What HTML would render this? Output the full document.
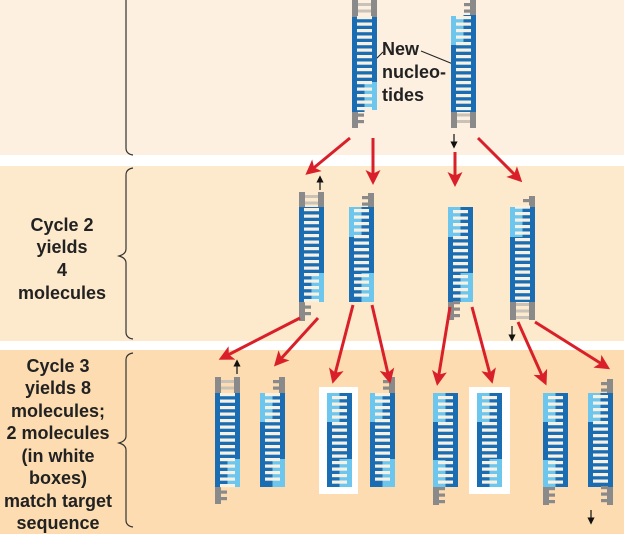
<!DOCTYPE html>
<html><head><meta charset="utf-8"><style>
html,body{margin:0;padding:0;background:#fff}
svg{display:block}
text{font-family:"Liberation Sans",Arial,sans-serif;font-weight:bold;fill:#222;font-size:18px}
</style></head><body>
<svg id="s" width="624" height="534" viewBox="0 0 624 534" xmlns="http://www.w3.org/2000/svg">
<defs>
<marker id="ar" markerWidth="5" markerHeight="5" refX="3" refY="2.5" orient="auto" markerUnits="strokeWidth">
<path d="M0,0 L5,2.5 L0,5 L1.2,2.5 z" fill="#d9202a"/></marker>
<marker id="ab" markerWidth="6" markerHeight="6" refX="3" refY="3" orient="auto" markerUnits="strokeWidth">
<path d="M0,0 L6,3 L0,6 z" fill="#111"/></marker>
</defs>
<rect x="0" y="0" width="624" height="155" fill="#fdf0e1"/>
<rect x="0" y="166" width="624" height="175" fill="#fde9cb"/>
<rect x="0" y="350" width="624" height="184" fill="#fcdcb0"/>
<g fill="none" stroke="#333" stroke-width="1.2">
<path d="M126,0 L126,148 Q126,154 133,155"/>
<path d="M133,168 Q126,169 126,175 L126,249 Q126,254 119,256 Q126,258 126,263 L126,332 Q126,338 133,339"/>
<path d="M133,353 Q126,354 126,360 L126,436 Q126,441 119,443 Q126,445 126,450 L126,520 Q126,526 133,527"/>
</g>
<g text-anchor="middle">
<text x="62" y="231">Cycle 2</text>
<text x="62" y="253">yields</text>
<text x="62" y="276">4</text>
<text x="62" y="299">molecules</text>
<text x="58" y="372">Cycle 3</text>
<text x="58" y="394">yields 8</text>
<text x="58" y="417">molecules;</text>
<text x="58" y="439">2 molecules</text>
<text x="58" y="462">(in white</text>
<text x="58" y="484">boxes)</text>
<text x="58" y="507">match target</text>
<text x="58" y="529">sequence</text>
</g>
<text x="382" y="55">New</text>
<text x="382" y="78">nucleo-</text>
<text x="382" y="101">tides</text>
<g stroke="#222" stroke-width="1">
<line x1="375" y1="60" x2="383" y2="52"/>
<line x1="421" y1="51" x2="453" y2="64"/>
</g>
<rect x="319" y="387" width="39" height="107" fill="#fff"/>
<rect x="469" y="387" width="41" height="107" fill="#fff"/>
<g id="mols"></g>
<g stroke="#d9202a" stroke-width="3" fill="none" marker-end="url(#ar)">
<line x1="350" y1="138" x2="310" y2="171"/>
<line x1="373" y1="138" x2="373" y2="179"/>
<line x1="455" y1="152" x2="455" y2="181"/>
<line x1="478" y1="138" x2="518" y2="178"/>
<line x1="300" y1="318" x2="224" y2="357"/>
<line x1="318" y1="318" x2="278" y2="362"/>
<line x1="353" y1="305" x2="334" y2="378"/>
<line x1="372" y1="305" x2="389" y2="378"/>
<line x1="450" y1="307" x2="438" y2="380"/>
<line x1="472" y1="307" x2="491" y2="378"/>
<line x1="518" y1="322" x2="544" y2="380"/>
<line x1="535" y1="322" x2="605" y2="366"/>
</g>
<g stroke="#111" stroke-width="1.2" marker-end="url(#ab)">
<line x1="320" y1="190" x2="320" y2="179"/>
<line x1="454" y1="134" x2="454" y2="145"/>
<line x1="512" y1="326" x2="512" y2="338"/>
<line x1="237" y1="374" x2="237" y2="363"/>
<line x1="591" y1="510" x2="591" y2="521"/>
</g>
</svg>
<script>
var D='#1a6db3',L='#6cc6ee',G='#8a8a8a',W='#f7f1e3';
var mols=[
[352,[[0,17,G],[17,112,D],[112,128,G]],[[0,17,G],[17,82,D],[82,110,L]]],
[451,[[16,45,L],[45,112,D],[112,128,G]],[[0,15,G],[15,112,D],[112,128,G]]],
[299,[[192,207,G],[207,302,D],[302,321,G]],[[192,207,G],[207,273,D],[273,302,L]]],
[349,[[207,237,L],[237,302,D]],[[193,207,G],[207,273,D],[273,302,L]]],
[448,[[207,237,L],[237,302,D],[302,320,G]],[[207,273,D],[273,302,L]]],
[510,[[207,237,L],[237,302,D],[302,320,G]],[[196,207,G],[207,302,D],[302,320,G]]],
[215,[[377,393,G],[393,487,D],[487,504,G]],[[377,393,G],[393,459,D],[459,487,L]]],
[260,[[393,422,L],[422,487,D]],[[377,393,G],[393,459,D],[459,487,L]]],
[327,[[393,422,L],[422,487,D]],[[393,459,D],[459,487,L]]],
[370,[[393,422,L],[422,487,D]],[[377,393,G],[393,459,D],[459,487,L]]],
[433,[[393,422,L],[422,460,D],[460,487,L],[487,505,G]],[[393,487,D]]],
[477,[[393,422,L],[422,487,D]],[[393,459,D],[459,487,L]]],
[543,[[393,422,L],[422,460,D],[460,487,L],[487,505,G]],[[393,487,D]]],
[588,[[393,422,L],[422,487,D]],[[379,393,G],[393,487,D],[487,505,G]]]
];
var h='';
function r(x,y,w,hh,c){h+='<rect x="'+x+'" y="'+y+'" width="'+w+'" height="'+hh+'" fill="'+c+'"/>';}
function col(S,y){for(var i=0;i<S.length;i++){if(y>=S[i][0]&&y<S[i][1])return S[i][2];}return null;}
mols.forEach(function(m){
 var x=m[0],Ls=m[1],Rs=m[2];
 Ls.forEach(function(s){ if(s[2]!=G) r(x,s[0],12.5,s[1]-s[0],s[2]); else r(x,s[0],6,s[1]-s[0],G);});
 Rs.forEach(function(s){ if(s[2]!=G) r(x+12.5,s[0],12.5,s[1]-s[0],s[2]); else r(x+19,s[0],6,s[1]-s[0],G);});
 var top=Math.min(Ls[0][0],Rs[0][0]),bot=Math.max(Ls[Ls.length-1][1],Rs[Rs.length-1][1]);
 for(var y=top+3;y<bot-3;y+=6.5){
  var cl=col(Ls,y+1.5),cr=col(Rs,y+1.5);
  if(cl&&cr){
   if(cl==G&&cr==G) r(x+6,y,13,3,'#c8c2b8');
   else r(x+5,y,15,3.2,W);
  } else if(cl){ r(x+5,y,7,3.2,G);}
  else if(cr){ r(x+13,y,7,3.2,G);}
 }
});
document.getElementById('mols').innerHTML=h;
</script>
</body></html>
